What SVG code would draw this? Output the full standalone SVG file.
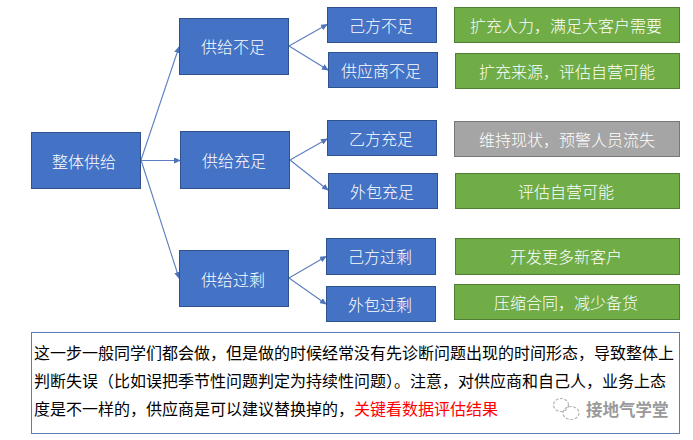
<svg xmlns="http://www.w3.org/2000/svg" width="693" height="440" viewBox="0 0 693 440">
<style>
text{font-family:"Noto Sans CJK SC","Liberation Sans",sans-serif;font-size:16px}
.n text,.g text{fill:#fff;text-anchor:middle;font-weight:300}
.n rect{fill:#4472c4;stroke:#2f528f;stroke-width:1}
.g rect{fill:#70ad47;stroke:#507e32;stroke-width:1}
.y rect{fill:#a5a5a5;stroke:#787878;stroke-width:1}
.c line{stroke:#5b7fc0;stroke-width:1.1;marker-end:url(#a)}
.b{fill:#000}
</style>
<defs><marker id="a" markerWidth="7" markerHeight="6" refX="6" refY="3" orient="auto" markerUnits="userSpaceOnUse"><path d="M0 0L7 3L0 6Z" fill="#4f73b8"/></marker></defs>
<rect width="693" height="440" fill="#fff"/>
<g id="connectors" class="c">
<line x1="141" y1="160" x2="179" y2="47"/>
<line x1="141" y1="160.500" x2="180" y2="160.500"/>
<line x1="141" y1="160" x2="179" y2="278"/>
<line x1="289" y1="46" x2="327" y2="24.500"/>
<line x1="289" y1="46" x2="328" y2="70"/>
<line x1="290" y1="160" x2="327" y2="139"/>
<line x1="290" y1="160" x2="328" y2="190"/>
<line x1="289" y1="278" x2="326" y2="256.500"/>
<line x1="289" y1="278" x2="326" y2="304"/>
</g>
<g id="n0" class="n"><rect x="31.500" y="132.500" width="109" height="56"/><text x="84" y="168">整体供给</text></g>
<g id="n1" class="n"><rect x="179.500" y="18.500" width="109" height="56"/><text x="233" y="53">供给不足</text></g>
<g id="n2" class="n"><rect x="180.500" y="131.500" width="109" height="57"/><text x="234" y="167">供给充足</text></g>
<g id="n3" class="n"><rect x="179.500" y="250.500" width="109" height="56"/><text x="233" y="286">供给过剩</text></g>
<g id="n4" class="n"><rect x="327.500" y="7.500" width="109" height="35"/><text x="381" y="32">己方不足</text></g>
<g id="n5" class="n"><rect x="328.500" y="52.500" width="109" height="35"/><text x="381" y="77">供应商不足</text></g>
<g id="n6" class="n"><rect x="327.500" y="120.500" width="109" height="35"/><text x="381" y="145">乙方充足</text></g>
<g id="n7" class="n"><rect x="328.500" y="173.500" width="109" height="35"/><text x="382" y="198">外包充足</text></g>
<g id="n8" class="n"><rect x="326.500" y="238.500" width="109" height="36"/><text x="380" y="263">己方过剩</text></g>
<g id="n9" class="n"><rect x="326.500" y="286.500" width="109" height="35"/><text x="380" y="311">外包过剩</text></g>
<g id="a1" class="g"><rect x="454.500" y="7.500" width="225" height="35"/><text x="566" y="32">扩充人力，满足大客户需要</text></g>
<g id="a2" class="g"><rect x="455.500" y="53.500" width="224" height="35"/><text x="567" y="78">扩充来源，评估自营可能</text></g>
<g id="a3" class="g y"><rect x="454.500" y="121.500" width="225" height="35"/><text x="567" y="146">维持现状，预警人员流失</text></g>
<g id="a4" class="g"><rect x="455.500" y="173.500" width="224" height="35"/><text x="566" y="198">评估自营可能</text></g>
<g id="a5" class="g"><rect x="455.500" y="238.500" width="224" height="36"/><text x="566" y="263">开发更多新客户</text></g>
<g id="a6" class="g"><rect x="454.500" y="284.500" width="225" height="35"/><text x="566" y="309">压缩合同，减少备货</text></g>
<g id="note">
<rect x="31.500" y="332.500" width="648" height="101" fill="#fff" stroke="#5b7fb5" stroke-width="1"/>
<text class="b" x="34" y="359">这一步一般同学们都会做，但是做的时候经常没有先诊断问题出现的时间形态，导致整体上</text>
<text class="b" x="34" y="387">判断失误（比如误把季节性问题判定为持续性问题）。注意，对供应商和自己人，业务上态</text>
<text class="b" x="34" y="415">度是不一样的，供应商是可以建议替换掉的，<tspan fill="#f00">关键看数据评估结果</tspan></text>
</g>
<g id="watermark" fill="none" stroke="#b5b5b5" stroke-width="1.200">
<ellipse cx="561" cy="405" rx="7.500" ry="6.500" stroke-dasharray="3 1.500"/>
<ellipse cx="571" cy="413" rx="8" ry="6.500" stroke-dasharray="3 1.500"/>
<text x="586" y="416" fill="#999" stroke="none" font-weight="700" style="font-size:16.500px">接地气学堂</text>
</g>
</svg>
